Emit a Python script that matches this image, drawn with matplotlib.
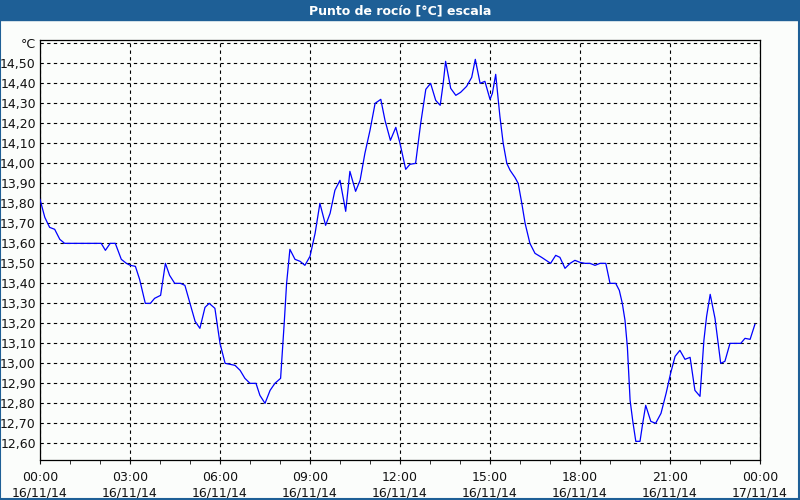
import matplotlib
matplotlib.use("Agg")
import matplotlib.pyplot as plt
import matplotlib.dates as mdates
import pandas as pd

# horas desde 16/11/14 00:00 y punto de rocío (°C)
horas = [0.0, 0.16, 0.32, 0.49, 0.66, 0.82, 1.2, 1.6, 2.04, 2.18, 2.34, 2.51, 2.71, 2.88,
         3.01, 3.18, 3.32, 3.51, 3.68, 3.82, 4.02, 4.18, 4.32, 4.49, 4.68, 4.83, 5.0, 5.17,
         5.33, 5.5, 5.64, 5.83, 6.0, 6.17, 6.33, 6.5, 6.67, 6.83, 7.0, 7.2, 7.33, 7.5, 7.67,
         7.83, 8.02, 8.14, 8.22, 8.33, 8.5, 8.67, 8.83, 9.0, 9.17, 9.33, 9.52, 9.67, 9.83,
         10.0, 10.19, 10.33, 10.52, 10.67, 10.83, 11.0, 11.17, 11.36, 11.5, 11.68, 11.86,
         12.0, 12.19, 12.33, 12.52, 12.69, 12.86, 13.02, 13.19, 13.34, 13.44, 13.52, 13.69,
         13.86, 14.02, 14.22, 14.39, 14.51, 14.67, 14.83, 15.0, 15.08, 15.19, 15.33, 15.44,
         15.56, 15.67, 15.83, 15.94, 16.06, 16.17, 16.33, 16.5, 16.72, 16.87, 17.02, 17.19,
         17.33, 17.5, 17.67, 17.83, 18.0, 18.17, 18.33, 18.5, 18.67, 18.86, 19.0, 19.19,
         19.31, 19.41, 19.5, 19.58, 19.67, 19.76, 19.86, 20.0, 20.09, 20.19, 20.36, 20.52,
         20.7, 20.87, 21.02, 21.17, 21.33, 21.5, 21.67, 21.83, 22.0, 22.13, 22.22, 22.34,
         22.5, 22.69, 22.83, 23.0, 23.17, 23.36, 23.5, 23.67, 23.83]
rocio = [13.82, 13.73, 13.68, 13.67, 13.62, 13.60, 13.60, 13.60, 13.60, 13.565, 13.60, 13.60,
         13.52, 13.50, 13.49, 13.485, 13.42, 13.30, 13.30, 13.325, 13.34, 13.50, 13.44, 13.40,
         13.40, 13.39, 13.30, 13.21, 13.175, 13.28, 13.30, 13.275, 13.10, 13.00, 12.995, 12.99,
         12.965, 12.925, 12.90, 12.90, 12.84, 12.80, 12.865, 12.90, 12.925, 13.20, 13.40, 13.57,
         13.52, 13.51, 13.49, 13.535, 13.65, 13.80, 13.69, 13.75, 13.865, 13.915, 13.76, 13.96,
         13.86, 13.915, 14.05, 14.165, 14.30, 14.32, 14.215, 14.115, 14.18, 14.10, 13.97,
         13.995, 14.00, 14.20, 14.37, 14.40, 14.315, 14.29, 14.40, 14.51, 14.375, 14.34,
         14.355, 14.385, 14.43, 14.52, 14.40, 14.41, 14.32, 14.35, 14.445, 14.235, 14.10,
         14.00, 13.965, 13.93, 13.90, 13.80, 13.70, 13.60, 13.55, 13.53, 13.515, 13.50, 13.54,
         13.53, 13.475, 13.50, 13.515, 13.505, 13.50, 13.50, 13.49, 13.50, 13.50, 13.40, 13.40,
         13.365, 13.30, 13.215, 13.08, 12.815, 12.71, 12.61, 12.61, 12.70, 12.79, 12.71, 12.70,
         12.75, 12.85, 12.95, 13.035, 13.065, 13.02, 13.03, 12.865, 12.835, 13.115, 13.235,
         13.345, 13.225, 13.00, 13.01, 13.10, 13.10, 13.10, 13.125, 13.12, 13.195]

y_ticks = [12.6, 12.7, 12.8, 12.9, 13.0, 13.1, 13.2, 13.3, 13.4, 13.5,
           13.6, 13.7, 13.8, 13.9, 14.0, 14.1, 14.2, 14.3, 14.4, 14.5, 14.6]
y_labels = [f"{v:.2f}".replace(".", ",") for v in y_ticks[:-1]] + ["°C"]

inicio = pd.Timestamp("2014-11-16")
fin = pd.Timestamp("2014-11-17")
tiempos = inicio + pd.to_timedelta(horas, unit="h")

plt.rcParams["font.family"] = ["DejaVu Sans"]
bg = "#fbfdfb"
fig = plt.figure(figsize=(8, 5), dpi=100, facecolor=bg)

# barra de título y marco azul
fig.patches.append(plt.Rectangle((0, 0.96), 1, 0.04, transform=fig.transFigure,
                                 color="#1e5f96", zorder=0))
fig.patches.append(plt.Rectangle((0.0006, 0.002), 0.9976, 0.996, transform=fig.transFigure,
                                 fill=False, edgecolor="#1e5f96", lw=1.5, zorder=0))
fig.text(0.5, 0.979, "Punto de rocío [°C] escala", color="white", fontsize=9,
         fontweight="bold", ha="center", va="center")

ax = fig.add_axes([0.05, 0.08, 0.90, 0.84])
ax.set_facecolor(bg)
ax.plot(tiempos, rocio, color="#0000ff", lw=0.9, zorder=3)

ax.set_xlim(inicio, fin)
ax.set_ylim(12.5167, 14.6167)
ax.set_yticks(y_ticks)
ax.set_yticklabels(y_labels)
ax.xaxis.set_major_locator(mdates.HourLocator(byhour=range(0, 24, 3)))
ax.xaxis.set_minor_locator(mdates.HourLocator())
ax.xaxis.set_major_formatter(mdates.DateFormatter("%H:%M\n%d/%m/%y"))

ax.grid(True, which="major", color="black", linestyle=(0, (3, 3)), lw=0.8)
ax.tick_params(axis="y", length=0, pad=3, labelsize=9, colors="#111111")
ax.tick_params(axis="x", which="both", length=3, direction="out", pad=5,
               labelsize=9, colors="#111111")
for s in ax.spines.values():
    s.set_color("black")
    s.set_linewidth(0.9)

fig.savefig("out.png", dpi=100, facecolor=bg)
